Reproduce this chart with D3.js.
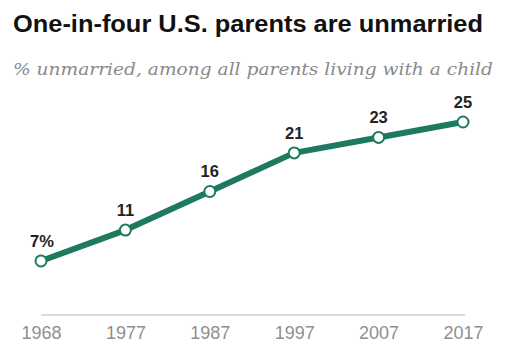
<!DOCTYPE html>
<html>
<head>
<meta charset="utf-8">
<script src="https://cdn.jsdelivr.net/npm/d3@7"></script>
<style>
  html, body { margin: 0; padding: 0; background: #fff; }
  svg { display: block; }
</style>
</head>
<body>
<div id="chart"></div>
<script>
/* Share of unmarried parents living with a child */
const years = ["1968", "1977", "1987", "1997", "2007", "2017"];
const pctUnmarried = [7, 11, 16, 21, 23, 25];
const valueLabels = ["7%", "11", "16", "21", "23", "25"];

const W = 509, H = 351;
const svg = d3.select("#chart").append("svg")
  .attr("width", W)
  .attr("height", H);

/* ── Titles ── */
svg.append("text")
  .attr("x", 13).attr("y", 32)
  .attr("font-family", "'Liberation Sans', Arial, sans-serif")
  .attr("font-weight", "bold")
  .attr("font-size", 23)
  .attr("fill", "#111")
  .attr("textLength", 470)
  .attr("lengthAdjust", "spacingAndGlyphs")
  .text("One-in-four U.S. parents are unmarried");

svg.append("text")
  .attr("x", 13).attr("y", 75)
  .attr("font-family", "'DejaVu Serif', Georgia, serif")
  .attr("font-style", "italic")
  .attr("font-size", 17)
  .attr("fill", "#8a8a8a")
  .attr("textLength", 480)
  .attr("lengthAdjust", "spacingAndGlyphs")
  .text("% unmarried, among all parents living with a child");

/* ── Scales ── */
const x = d3.scalePoint().domain(years).range([41, 463]);
const y = d3.scaleLinear().domain([0, 25]).range([315, 122]);

/* ── Baseline axis ── */
svg.append("line")
  .attr("x1", x(years[0])).attr("x2", x(years[years.length - 1]) + 2)
  .attr("y1", y(0)).attr("y2", y(0))
  .attr("stroke", "#cfcfcf")
  .attr("stroke-width", 1.5);

const xAxis = svg.append("g")
  .attr("transform", `translate(0,${y(0)})`)
  .call(d3.axisBottom(x).tickSize(0).tickPadding(11));
xAxis.select(".domain").remove();
xAxis.selectAll("text")
  .attr("font-family", "'Liberation Sans', Arial, sans-serif")
  .attr("font-size", 18)
  .attr("fill", "#8f8f8f");

/* ── Line ── */
const data = years.map((yr, i) => ({ yr, v: pctUnmarried[i], label: valueLabels[i] }));

svg.append("path")
  .datum(data)
  .attr("d", d3.line().x(d => x(d.yr)).y(d => y(d.v)))
  .attr("fill", "none")
  .attr("stroke", "#1d7a60")
  .attr("stroke-width", 6)
  .attr("stroke-linejoin", "round");

svg.selectAll("circle.pt")
  .data(data)
  .enter().append("circle")
  .attr("class", "pt")
  .attr("cx", d => x(d.yr))
  .attr("cy", d => y(d.v))
  .attr("r", 5.5)
  .attr("fill", "#fff")
  .attr("stroke", "#1d7a60")
  .attr("stroke-width", 2);

/* ── Value labels ── */
svg.selectAll("text.val")
  .data(data)
  .enter().append("text")
  .attr("class", "val")
  .attr("x", d => x(d.yr) + (d.label === "7%" ? 1 : 0))
  .attr("y", d => y(d.v) - 14)
  .attr("text-anchor", "middle")
  .attr("font-family", "'Liberation Sans', Arial, sans-serif")
  .attr("font-weight", "bold")
  .attr("font-size", 16.5)
  .attr("fill", "#222")
  .text(d => d.label);
</script>
</body>
</html>
